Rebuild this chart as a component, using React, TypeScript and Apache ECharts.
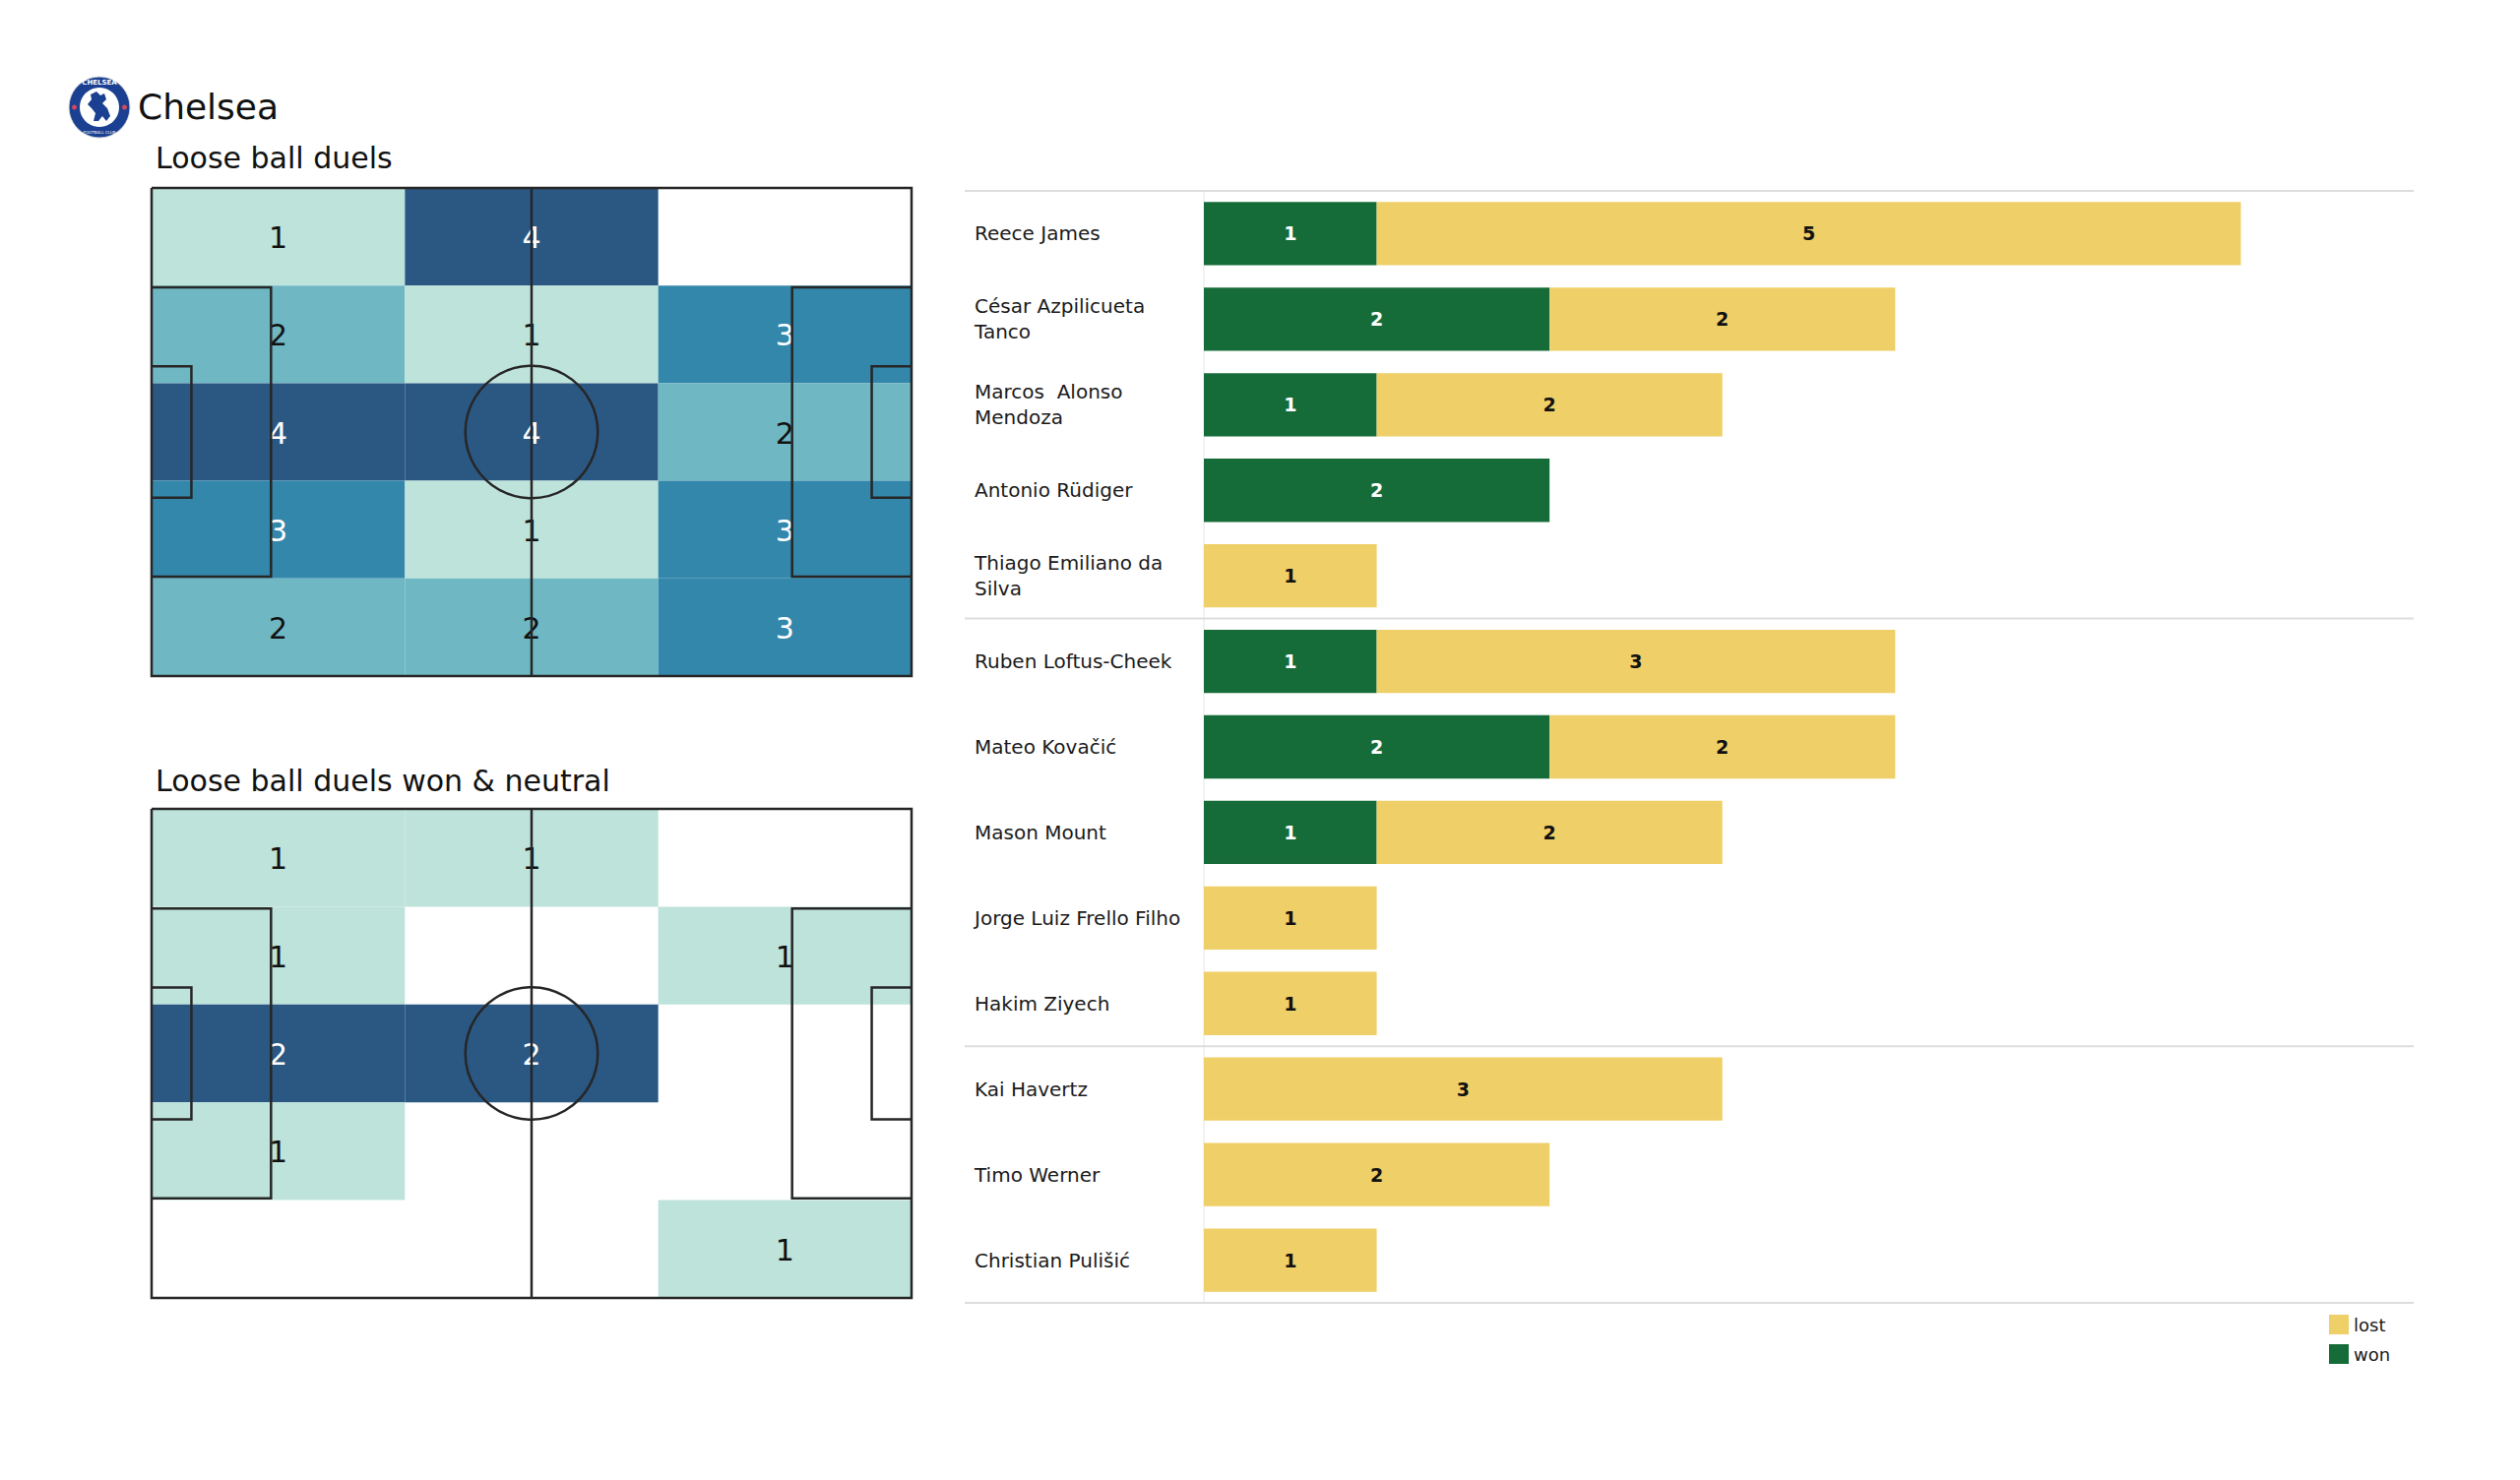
import React, { useEffect, useRef } from "react";
import * as echarts from "echarts";

// ---------- DATA ----------
const teamName = "Chelsea";
const pitchTitles = ["Loose ball duels", "Loose ball duels won & neutral"];

// heat grids: rows top -> bottom, cols left -> right
const duelsGrid = [
  [1, 4, 0],
  [2, 1, 3],
  [4, 4, 2],
  [3, 1, 3],
  [2, 2, 3],
];
const wonNeutralGrid = [
  [1, 1, 0],
  [1, 0, 1],
  [2, 2, 0],
  [1, 0, 0],
  [0, 0, 1],
];

const players = [
  "Reece James",
  "César Azpilicueta\nTanco",
  "Marcos  Alonso\nMendoza",
  "Antonio Rüdiger",
  "Thiago Emiliano da\nSilva",
  "Ruben Loftus-Cheek",
  "Mateo Kovačić",
  "Mason Mount",
  "Jorge Luiz Frello Filho",
  "Hakim Ziyech",
  "Kai Havertz",
  "Timo Werner",
  "Christian Pulišić",
];
const wonValues = [1, 2, 1, 2, 0, 1, 2, 1, 0, 0, 0, 0, 0];
const lostValues = [5, 2, 2, 0, 1, 3, 2, 2, 1, 1, 3, 2, 1];
const groupSizes = [5, 5, 3];
const barAxisMax = 7;

// ---------- STYLE ----------
const FONT = "DejaVu Sans";
const HEAT_COLORS = ["#bde3da", "#6fb7c3", "#3387ab", "#2b5883"];
const WON_COLOR = "#166c38";
const LOST_COLOR = "#efcf67";
const LINE_COLOR = "#262626";

// pitch geometry (metres)
const PL = 105;
const PW = 68;
const PEN_D = 16.5;
const PEN_W = 40.32;
const GA_D = 5.5;
const GA_W = 18.32;
const CIRCLE_R = 9.15;
const COLS = 3;
const ROWS = 5;

function gridToData(g: number[][]) {
  const out: number[][] = [];
  g.forEach((row, r) =>
    row.forEach((v, c) => {
      if (v > 0) out.push([c, r, v]);
    })
  );
  return out;
}
function gridMax(g: number[][]) {
  return Math.max(...g.map((r) => Math.max(...r)));
}

function cellRenderer(maxV: number) {
  return (params: any, api: any) => {
    const col = api.value(0);
    const row = api.value(1);
    const v = api.value(2);
    const cw = PL / COLS;
    const ch = PW / ROWS;
    const p0 = api.coord([col * cw, row * ch]);
    const p1 = api.coord([(col + 1) * cw, (row + 1) * ch]);
    const x = Math.min(p0[0], p1[0]);
    const y = Math.min(p0[1], p1[1]);
    const w = Math.abs(p1[0] - p0[0]);
    const h = Math.abs(p1[1] - p0[1]);
    const t = maxV > 1 ? (v - 1) / (maxV - 1) : 0;
    return {
      type: "group",
      children: [
        { type: "rect", shape: { x, y, width: w, height: h }, style: { fill: api.visual("color") } },
        {
          type: "text",
          x: x + w / 2,
          y: y + h / 2 + 1,
          z2: 5,
          style: {
            text: String(v),
            fill: t > 0.5 ? "#ffffff" : "#111111",
            fontSize: 30,
            fontFamily: FONT,
            align: "center",
            verticalAlign: "middle",
          },
        },
      ],
    };
  };
}

function pitchRenderer(params: any, api: any) {
  const c = (x: number, y: number) => api.coord([x, y]);
  const pl = (pts: number[][]) => ({
    type: "polyline",
    shape: { points: pts.map((p) => c(p[0], p[1])) },
    style: { stroke: LINE_COLOR, lineWidth: 2.5, fill: null },
  });
  const penT = (PW - PEN_W) / 2;
  const penB = penT + PEN_W;
  const gaT = (PW - GA_W) / 2;
  const gaB = gaT + GA_W;
  const ctr = c(PL / 2, PW / 2);
  const r = api.size([CIRCLE_R, 0])[0];
  return {
    type: "group",
    children: [
      pl([[0, 0], [PL, 0], [PL, PW], [0, PW], [0, 0]]),
      pl([[PL / 2, 0], [PL / 2, PW]]),
      pl([[0, penT], [PEN_D, penT], [PEN_D, penB], [0, penB]]),
      pl([[PL, penT], [PL - PEN_D, penT], [PL - PEN_D, penB], [PL, penB]]),
      pl([[0, gaT], [GA_D, gaT], [GA_D, gaB], [0, gaB]]),
      pl([[PL, gaT], [PL - GA_D, gaT], [PL - GA_D, gaB], [PL, gaB]]),
      {
        type: "circle",
        shape: { cx: ctr[0], cy: ctr[1], r },
        style: { stroke: LINE_COLOR, lineWidth: 2.5, fill: null },
      },
    ],
  };
}

export default function App() {
  const ref = useRef<HTMLDivElement>(null);
  useEffect(() => {
    if (!ref.current) return;
    const chart = echarts.init(ref.current, null, { renderer: "svg" });

    const boundaries: number[] = [0];
    groupSizes.forEach((s) => boundaries.push(boundaries[boundaries.length - 1] + s));

    const pitchGrids = [
      { left: 154, top: 191, width: 772, height: 496 },
      { left: 154, top: 822, width: 772, height: 497 },
    ];

    const labelFmt = (p: any) => (p.value ? String(p.value) : "");

    const option: any = {
      animation: false,
      backgroundColor: "#ffffff",
      textStyle: { fontFamily: FONT },
      grid: [
        { ...pitchGrids[0], containLabel: false },
        { ...pitchGrids[1], containLabel: false },
        { left: 1223, top: 194, width: 1229, height: 1130, containLabel: false },
        { left: 980, top: 194, width: 1472, height: 1130, containLabel: false },
      ],
      xAxis: [
        { type: "value", gridIndex: 0, min: 0, max: PL, show: false },
        { type: "value", gridIndex: 1, min: 0, max: PL, show: false },
        {
          type: "value",
          gridIndex: 2,
          min: 0,
          max: barAxisMax,
          axisLabel: { show: false },
          axisLine: { show: false },
          axisTick: { show: false },
          splitLine: { show: false },
        },
        { type: "value", gridIndex: 3, min: 0, max: 1, show: false },
      ],
      yAxis: [
        { type: "value", gridIndex: 0, min: 0, max: PW, inverse: true, show: false },
        { type: "value", gridIndex: 1, min: 0, max: PW, inverse: true, show: false },
        {
          type: "category",
          gridIndex: 2,
          data: players,
          inverse: true,
          axisTick: { show: false },
          axisLine: { show: true, lineStyle: { color: "#eeeeee", width: 1.5 } },
          axisLabel: {
            align: "left",
            margin: 233,
            fontSize: 20,
            lineHeight: 26,
            color: "#1a1a1a",
            fontFamily: FONT,
            padding: [3, 0, 0, 0],
          },
          splitLine: { show: false },
        },
        {
          type: "value",
          gridIndex: 3,
          min: 0,
          max: players.length,
          inverse: true,
          show: false,
        },
      ],
      visualMap: [
        {
          type: "continuous",
          show: false,
          seriesIndex: 0,
          dimension: 2,
          min: 1,
          max: gridMax(duelsGrid),
          inRange: { color: HEAT_COLORS },
        },
        {
          type: "continuous",
          show: false,
          seriesIndex: 2,
          dimension: 2,
          min: 1,
          max: gridMax(wonNeutralGrid),
          inRange: { color: HEAT_COLORS },
        },
      ],
      legend: {
        orient: "vertical",
        left: 2361,
        top: 1331,
        itemWidth: 20,
        itemHeight: 20,
        itemGap: 10,
        icon: "rect",
        data: ["lost", "won"],
        textStyle: { fontSize: 18, color: "#1a1a1a", fontFamily: FONT },
      },
      series: [
        {
          type: "custom",
          xAxisIndex: 0,
          yAxisIndex: 0,
          data: gridToData(duelsGrid),
          renderItem: cellRenderer(gridMax(duelsGrid)),
          clip: false,
          silent: true,
        },
        {
          type: "custom",
          xAxisIndex: 0,
          yAxisIndex: 0,
          data: [[0, 0]],
          renderItem: pitchRenderer,
          clip: false,
          silent: true,
          z: 3,
        },
        {
          type: "custom",
          xAxisIndex: 1,
          yAxisIndex: 1,
          data: gridToData(wonNeutralGrid),
          renderItem: cellRenderer(gridMax(wonNeutralGrid)),
          clip: false,
          silent: true,
        },
        {
          type: "custom",
          xAxisIndex: 1,
          yAxisIndex: 1,
          data: [[0, 0]],
          renderItem: pitchRenderer,
          clip: false,
          silent: true,
          z: 3,
        },
        {
          name: "won",
          type: "bar",
          stack: "total",
          xAxisIndex: 2,
          yAxisIndex: 2,
          data: wonValues,
          barCategoryGap: "26%",
          itemStyle: { color: WON_COLOR },
          label: {
            show: true,
            position: "inside",
            color: "#ffffff",
            fontWeight: "bold",
            fontSize: 19,
            fontFamily: FONT,
            formatter: labelFmt,
          },
        },
        {
          name: "lost",
          type: "bar",
          stack: "total",
          xAxisIndex: 2,
          yAxisIndex: 2,
          data: lostValues,
          barCategoryGap: "26%",
          itemStyle: { color: LOST_COLOR },
          label: {
            show: true,
            position: "inside",
            color: "#111111",
            fontWeight: "bold",
            fontSize: 19,
            fontFamily: FONT,
            formatter: labelFmt,
          },
        },
        {
          type: "custom",
          xAxisIndex: 3,
          yAxisIndex: 3,
          data: boundaries.map((b) => [0, b]),
          clip: false,
          silent: true,
          renderItem: (params: any, api: any) => {
            const b = api.value(1);
            const p0 = api.coord([0, b]);
            const p1 = api.coord([1, b]);
            return {
              type: "line",
              shape: { x1: p0[0], y1: p0[1], x2: p1[0], y2: p1[1] },
              style: { stroke: "#dddddd", lineWidth: 2 },
            };
          },
        },
      ],
      graphic: [
        {
          type: "group",
          x: 101,
          y: 109,
          children: [
            { type: "circle", shape: { cx: 0, cy: 0, r: 31 }, style: { fill: "#1b3f91", stroke: "#d9d9d9", lineWidth: 1 } },
            { type: "circle", shape: { cx: 0, cy: 0, r: 20 }, style: { fill: "#ffffff" } },
            { type: "circle", shape: { cx: -25.5, cy: 0, r: 2.5 }, style: { fill: "#d24a5c" } },
            { type: "circle", shape: { cx: 25.5, cy: 0, r: 2.5 }, style: { fill: "#d24a5c" } },
            {
              type: "text",
              x: 0,
              y: -25,
              style: { text: "CHELSEA", fill: "#ffffff", fontSize: 7, fontWeight: "bold", align: "center", verticalAlign: "middle", fontFamily: FONT },
            },
            {
              type: "text",
              x: 0,
              y: 25,
              style: { text: "FOOTBALL CLUB", fill: "#ffffff", fontSize: 4, align: "center", verticalAlign: "middle", fontFamily: FONT },
            },
            {
              type: "polygon",
              shape: {
                points: [
                  [-9, -13], [-3, -16], [1, -12], [5, -14], [7, -8], [3, -4], [8, 1], [11, 9],
                  [7, 14], [3, 9], [-1, 14], [-6, 14], [-4, 6], [-8, 1], [-12, -3], [-8, -8],
                ],
              },
              style: { fill: "#1b3f91" },
            },
          ],
        },
        {
          type: "text",
          x: 140,
          y: 108,
          style: { text: teamName, fontSize: 36, fill: "#111111", fontFamily: FONT, verticalAlign: "middle" },
        },
        {
          type: "text",
          x: 158,
          y: 160,
          style: { text: pitchTitles[0], fontSize: 30, fill: "#111111", fontFamily: FONT, verticalAlign: "middle" },
        },
        {
          type: "text",
          x: 158,
          y: 793,
          style: { text: pitchTitles[1], fontSize: 30, fill: "#111111", fontFamily: FONT, verticalAlign: "middle" },
        },
      ],
    };

    chart.setOption(option);
    return () => chart.dispose();
  }, []);

  return (
    <div
      ref={ref}
      style={{ position: "fixed", left: 0, top: 0, width: 2560, height: 1504, background: "#fff" }}
    />
  );
}
